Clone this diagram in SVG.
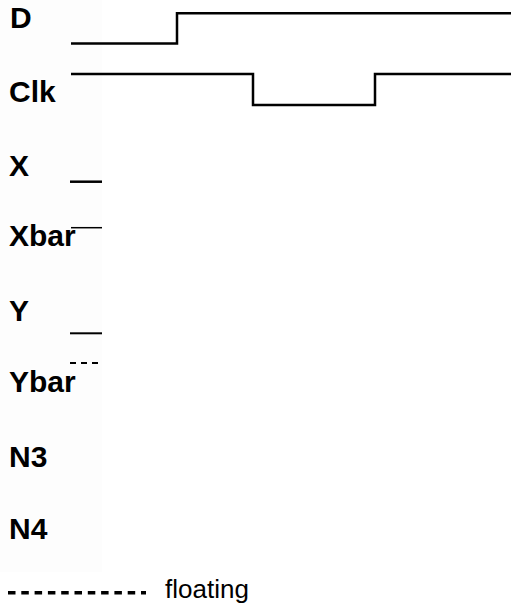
<svg xmlns="http://www.w3.org/2000/svg" width="511" height="608" viewBox="0 0 511 608">
<style>
.lb{font-family:"Liberation Sans",Arial,sans-serif;font-size:30px;font-weight:bold;fill:#000}
.w{fill:none;stroke:#000;stroke-width:2.5;stroke-linejoin:miter}
.lg{font-family:"Liberation Sans",Arial,sans-serif;font-size:26px;fill:#000}
</style>
<rect x="0" y="0" width="511" height="608" fill="#ffffff"/>
<rect x="0" y="0" width="102" height="572" fill="#fdfdfd"/>
<g id="D"><text class="lb" x="10" y="28">D</text></g>
<g id="Clk"><text class="lb" x="9" y="102">Clk</text></g>
<g id="X"><text class="lb" x="9" y="176">X</text></g>
<g id="Xbar"><text class="lb" x="9" y="246">Xbar</text></g>
<g id="Y"><text class="lb" x="9" y="321">Y</text></g>
<g id="Ybar"><text class="lb" x="9" y="392">Ybar</text></g>
<g id="N3"><text class="lb" x="9" y="467">N3</text></g>
<g id="N4"><text class="lb" x="9" y="539">N4</text></g>
<g id="waveforms">
<path class="w" d="M71 43.5H177V13.3H511"/>
<path class="w" d="M71 74H253V105H375V74H511"/>
<path class="w" d="M70 181.7H102" stroke-width="3"/>
<path class="w" d="M71 227.7H102" style="stroke-width:1.5"/>
<path class="w" d="M70 333.3H102" style="stroke-width:2"/>
<path class="w" d="M70 363H102" style="stroke-width:1.8;stroke-dasharray:6 5"/>
</g>
<g id="legend">
<path d="M8 592.7H146" fill="none" stroke="#000" stroke-width="3.5" stroke-dasharray="7.5 5.8"/>
<text class="lg" x="165" y="598">floating</text>
</g>
</svg>
